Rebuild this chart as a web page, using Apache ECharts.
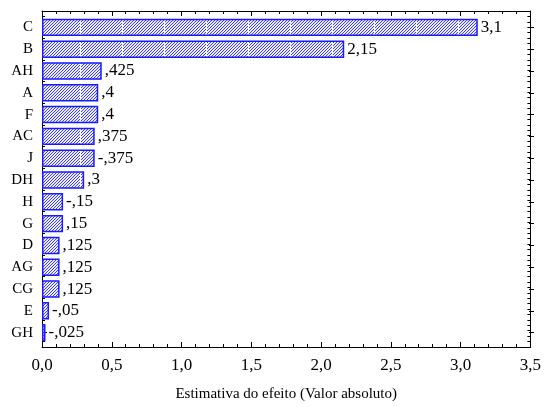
<!DOCTYPE html>
<html>
<head>
<meta charset="utf-8">
<script src="https://cdn.jsdelivr.net/npm/echarts@6/dist/echarts.min.js"></script>
<style>
  html, body { margin: 0; padding: 0; background: #fff; }
  #chart { width: 544px; height: 407px; }
</style>
</head>
<body>
<div id="chart"></div>
<script>
// Pareto chart of standardized effects (absolute value), largest on top
const factors = ['C', 'B', 'AH', 'A', 'F', 'AC', 'J', 'DH', 'H', 'G', 'D', 'AG', 'CG', 'E', 'GH'];
const effects = [3.1, 2.15, 0.425, 0.4, 0.4, 0.375, -0.375, 0.3, -0.15, 0.15, 0.125, 0.125, 0.125, -0.05, -0.025];
const xTicks = [0, 0.5, 1, 1.5, 2, 2.5, 3, 3.5];

const FONT = 'Liberation Serif';
const absEffects = effects.map(v => Math.abs(v));

// Decimal comma, leading zero dropped (",425", "-,375")
function effectLabel(v) {
  let s = String(Math.abs(v)).replace('.', ',');
  if (s.startsWith('0,')) s = s.slice(1);
  return (v < 0 ? '-' : '') + s;
}

// Diagonal hatch tile for the bar fill
function hatchTile() {
  const W = 42, H = 42;
  const c = document.createElement('canvas');
  c.width = W; c.height = H;
  const ctx = c.getContext('2d');
  const img = ctx.createImageData(W, H);
  for (let y = 0; y < H; y++) {
    for (let x = 0; x < W; x++) {
      const i = (y * W + x) * 4;
      let r = 255, g = 255, b = 255;
      if (x !== 38 && (x + y) % 3 === 0) { r = 60; g = 60; b = 255; }
      else if (x !== 38) { r = 238; g = 238; b = 255; }
      img.data[i] = r; img.data[i + 1] = g; img.data[i + 2] = b; img.data[i + 3] = 255;
    }
  }
  ctx.putImageData(img, 0, 0);
  return c;
}

const chart = echarts.init(document.getElementById('chart'), null, { renderer: 'canvas' });

const frameAxisX = {
  type: 'value', gridIndex: 0, min: 0, max: 3.5, interval: 0.5,
  axisLine: { show: true, onZero: false, lineStyle: { color: '#000', width: 1 } },
  axisTick: { show: true, inside: true, length: 5, lineStyle: { color: '#000' } },
  minorTick: { show: true, splitNumber: 5, length: 3, lineStyle: { color: '#000' } },
  splitLine: { show: false }
};
const frameAxisY = {
  type: 'value', gridIndex: 0, min: 0, max: 62, interval: 1, inverse: true,
  axisLine: { show: true, onZero: false, lineStyle: { color: '#000', width: 1 } },
  axisTick: { show: true, inside: true, length: 3, lineStyle: { color: '#000' } },
  axisLabel: { show: false },
  splitLine: { show: false }
};
const barCatAxis = {
  type: 'category', gridIndex: 1, data: factors, inverse: true,
  axisLine: { show: false },
  axisTick: { show: true, inside: true, alignWithLabel: true, length: 5, lineStyle: { color: '#000' } },
  splitLine: { show: false }
};

chart.setOption({
  animation: false,
  backgroundColor: '#fff',
  grid: [
    { left: 42, right: 10, top: 11, bottom: 58 },
    { left: 42, right: 10, top: 16.45, bottom: 63.45 }
  ],
  xAxis: [
    Object.assign({}, frameAxisX, {
      position: 'bottom',
      axisLabel: {
        show: true, margin: 10, color: '#000', fontFamily: FONT, fontSize: 17,
        formatter: v => v.toFixed(1).replace('.', ',')
      },
      name: 'Estimativa do efeito (Valor absoluto)',
      nameLocation: 'middle', nameGap: 40,
      nameTextStyle: { color: '#000', fontFamily: FONT, fontSize: 15 }
    }),
    Object.assign({}, frameAxisX, { position: 'top', axisLabel: { show: false } }),
    {
      type: 'value', gridIndex: 1, min: 0, max: 3.5,
      axisLine: { show: false }, axisTick: { show: false },
      axisLabel: { show: false }, splitLine: { show: false }
    }
  ],
  yAxis: [
    Object.assign({}, frameAxisY, { position: 'left' }),
    Object.assign({}, frameAxisY, { position: 'right' }),
    Object.assign({}, barCatAxis, {
      position: 'left',
      axisLabel: { show: true, margin: 9, color: '#000', fontFamily: FONT, fontSize: 15 }
    }),
    Object.assign({}, barCatAxis, { position: 'right', axisLabel: { show: false } })
  ],
  series: [{
    type: 'bar',
    xAxisIndex: 2,
    yAxisIndex: 2,
    data: absEffects,
    barCategoryGap: '20%',
    itemStyle: {
      color: { image: hatchTile(), repeat: 'repeat' },
      borderColor: '#1a1aff',
      borderWidth: 1.5
    },
    label: {
      show: true, position: 'right', distance: 3,
      color: '#000', fontFamily: FONT, fontSize: 17,
      formatter: p => effectLabel(effects[p.dataIndex])
    },
    emphasis: { disabled: true },
    silent: true
  }]
});
</script>
</body>
</html>
